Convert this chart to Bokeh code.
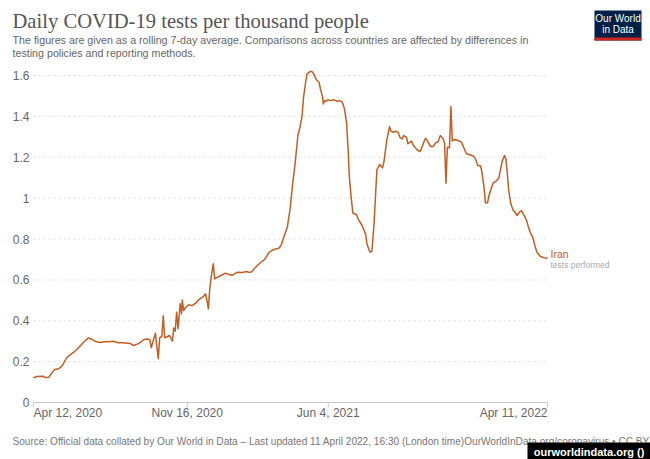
import pandas as pd
from bokeh.plotting import figure
from bokeh.models import Range1d, Label, BoxAnnotation, ColumnDataSource
from bokeh.core.properties import value
from bokeh.embed import file_html
from bokeh.resources import INLINE

# ---------------- data ----------------
dates = [
    "2020-04-12", "2020-04-17", "2020-04-26", "2020-04-29", "2020-05-04", "2020-05-07", "2020-05-12", "2020-05-18", "2020-05-23", "2020-05-29",
    "2020-06-03", "2020-06-08", "2020-06-15", "2020-06-22", "2020-06-29", "2020-07-03", "2020-07-09", "2020-07-16", "2020-07-23", "2020-07-28",
    "2020-08-03", "2020-08-10", "2020-08-17", "2020-08-27", "2020-09-01", "2020-09-07", "2020-09-11", "2020-09-15", "2020-09-20", "2020-09-24",
    "2020-09-26", "2020-09-30", "2020-10-02", "2020-10-03", "2020-10-06", "2020-10-08", "2020-10-11", "2020-10-13", "2020-10-15", "2020-10-19",
    "2020-10-22", "2020-10-26", "2020-10-28", "2020-10-30", "2020-11-01", "2020-11-03", "2020-11-06", "2020-11-08", "2020-11-09", "2020-11-11",
    "2020-11-14", "2020-11-18", "2020-11-23", "2020-11-28", "2020-12-02", "2020-12-09", "2020-12-12", "2020-12-14", "2020-12-16", "2020-12-18",
    "2020-12-20", "2020-12-23", "2020-12-25", "2020-12-29", "2021-01-05", "2021-01-09", "2021-01-14", "2021-01-19", "2021-01-26", "2021-02-02",
    "2021-02-08", "2021-02-11", "2021-02-15", "2021-02-21", "2021-02-28", "2021-03-06", "2021-03-12", "2021-03-19", "2021-03-26", "2021-03-29",
    "2021-04-02", "2021-04-07", "2021-04-11", "2021-04-14", "2021-04-18", "2021-04-22", "2021-04-25", "2021-04-28", "2021-04-30", "2021-05-03",
    "2021-05-05", "2021-05-09", "2021-05-12", "2021-05-15", "2021-05-18", "2021-05-22", "2021-05-24", "2021-05-27", "2021-05-28", "2021-05-30",
    "2021-06-01", "2021-06-04", "2021-06-07", "2021-06-12", "2021-06-17", "2021-06-20", "2021-06-24", "2021-06-27", "2021-06-30", "2021-07-02",
    "2021-07-04", "2021-07-07", "2021-07-09", "2021-07-14", "2021-07-17", "2021-07-22", "2021-07-27", "2021-07-29", "2021-08-02", "2021-08-05",
    "2021-08-08", "2021-08-10", "2021-08-12", "2021-08-16", "2021-08-20", "2021-08-22", "2021-08-26", "2021-08-30", "2021-09-01", "2021-09-05",
    "2021-09-08", "2021-09-11", "2021-09-14", "2021-09-17", "2021-09-19", "2021-09-23", "2021-09-25", "2021-09-28", "2021-09-30", "2021-10-03",
    "2021-10-08", "2021-10-12", "2021-10-14", "2021-10-17", "2021-10-20", "2021-10-23", "2021-10-27", "2021-10-31", "2021-11-03", "2021-11-07",
    "2021-11-10", "2021-11-14", "2021-11-16", "2021-11-18", "2021-11-20", "2021-11-23", "2021-11-25", "2021-11-27", "2021-11-30", "2021-12-05",
    "2021-12-10", "2021-12-13", "2021-12-17", "2021-12-22", "2021-12-27", "2021-12-30", "2022-01-02", "2022-01-06", "2022-01-08", "2022-01-11",
    "2022-01-13", "2022-01-16", "2022-01-18", "2022-01-21", "2022-01-24", "2022-01-28", "2022-02-01", "2022-02-03", "2022-02-06", "2022-02-09",
    "2022-02-11", "2022-02-13", "2022-02-15", "2022-02-18", "2022-02-21", "2022-02-24", "2022-02-27", "2022-03-02", "2022-03-05", "2022-03-08",
    "2022-03-12", "2022-03-15", "2022-03-18", "2022-03-21", "2022-03-24", "2022-03-27", "2022-04-01", "2022-04-06", "2022-04-11",
]

tests_per_thousand = [
    0.121, 0.127, 0.129, 0.122, 0.124, 0.140, 0.161, 0.165, 0.181, 0.219,
    0.233, 0.246, 0.268, 0.295, 0.316, 0.311, 0.298, 0.294, 0.298, 0.297,
    0.300, 0.292, 0.292, 0.289, 0.279, 0.287, 0.295, 0.307, 0.311, 0.307,
    0.268, 0.317, 0.339, 0.303, 0.214, 0.317, 0.323, 0.424, 0.317, 0.323,
    0.328, 0.300, 0.365, 0.349, 0.442, 0.361, 0.483, 0.434, 0.502, 0.450,
    0.466, 0.478, 0.474, 0.486, 0.502, 0.519, 0.532, 0.499, 0.458, 0.556,
    0.613, 0.679, 0.605, 0.613, 0.625, 0.633, 0.626, 0.623, 0.637, 0.636,
    0.641, 0.637, 0.639, 0.662, 0.685, 0.700, 0.735, 0.749, 0.755, 0.768,
    0.809, 0.858, 0.948, 1.053, 1.168, 1.306, 1.347, 1.404, 1.494, 1.567,
    1.608, 1.619, 1.619, 1.605, 1.579, 1.567, 1.534, 1.494, 1.461, 1.477,
    1.474, 1.482, 1.477, 1.481, 1.474, 1.477, 1.469, 1.437, 1.371, 1.249,
    1.102, 0.988, 0.926, 0.920, 0.894, 0.866, 0.825, 0.776, 0.736, 0.740,
    0.874, 1.004, 1.138, 1.164, 1.148, 1.176, 1.282, 1.350, 1.327, 1.322,
    1.327, 1.322, 1.295, 1.290, 1.306, 1.298, 1.266, 1.274, 1.279, 1.257,
    1.236, 1.228, 1.241, 1.269, 1.293, 1.279, 1.252, 1.252, 1.269, 1.277,
    1.306, 1.290, 1.269, 1.073, 1.249, 1.246, 1.448, 1.280, 1.287, 1.282,
    1.274, 1.249, 1.217, 1.212, 1.205, 1.192, 1.159, 1.159, 1.127, 1.053,
    0.977, 0.977, 1.013, 1.045, 1.075, 1.083, 1.099, 1.135, 1.184, 1.208,
    1.192, 1.119, 1.037, 0.972, 0.943, 0.931, 0.915, 0.931, 0.939, 0.920,
    0.894, 0.858, 0.828, 0.809, 0.768, 0.735, 0.714, 0.708, 0.706,
]

x_tick_dates = ["2020-04-12", "2020-11-16", "2021-06-04", "2022-04-11"]
x_tick_labels = ["Apr 12, 2020", "Nov 16, 2020", "Jun 4, 2021", "Apr 11, 2022"]
y_ticks = [0, 0.2, 0.4, 0.6, 0.8, 1.0, 1.2, 1.4, 1.6]
y_tick_labels = ["0", "0.2", "0.4", "0.6", "0.8", "1", "1.2", "1.4", "1.6"]

series_name = "Iran"
series_sub = "tests performed"
title = "Daily COVID-19 tests per thousand people"
subtitle_1 = "The figures are given as a rolling 7-day average. Comparisons across countries are affected by differences in"
subtitle_2 = "testing policies and reporting methods."
source = ("Source: Official data collated by Our World in Data \u2013 Last updated 11 April 2022, 16:30 (London time)"
          "OurWorldInData.org/coronavirus \u2022 CC BY")

# ---------------- layout ----------------
W, H = 650, 459
PL, PR, PT, PB = 33, 547, 75, 402    # plot-area edges on the canvas (data start/end, 1.6 and 0)
LINE_COLOR = "#C25E22"
SANS = "Liberation Sans"
GREY = "#666666"


def ms(d):
    return pd.Timestamp(d).value / 1e6


x0, x1 = ms(x_tick_dates[0]), ms(x_tick_dates[-1])
y_top = y_ticks[-1]
mpp = (x1 - x0) / (PR - PL)          # ms per pixel
upp = y_top / (PB - PT)              # value per pixel

p = figure(width=W, height=H,
           x_range=Range1d(x0 - PL * mpp, x1 + (W - PR) * mpp),
           y_range=Range1d(-(H - PB) * upp, y_top + PT * upp),
           output_backend="svg", toolbar_location=None,
           x_axis_location=None, y_axis_location=None,
           min_border=0)
p.outline_line_color = None
p.background_fill_color = "white"
p.border_fill_color = "white"
p.xgrid.visible = False
p.ygrid.visible = False


def sx(cx):
    return cx


def sy(cy):
    return H - cy


# grid lines (dotted) at the y ticks
n = len(y_ticks) - 1
p.segment(x0=[x0] * n, x1=[x1] * n, y0=y_ticks[1:], y1=y_ticks[1:],
          line_color="#dddddd", line_width=1, line_dash="2 3")

# x axis line and tick marks
p.segment(x0=[x0], x1=[x1], y0=[0], y1=[0], line_color="#c8c8c8", line_width=1)
xt = [ms(d) for d in x_tick_dates]
p.segment(x0=xt, x1=xt, y0=[0] * len(xt), y1=[-5 * upp] * len(xt), line_color="#c8c8c8", line_width=1)

# y tick labels
ysrc = ColumnDataSource(dict(x=[x0] * len(y_ticks), y=y_ticks, t=y_tick_labels))
p.text(x="x", y="y", text="t", source=ysrc, x_offset=-4, text_align="right", text_baseline="middle",
       text_font=value(SANS), text_font_size="12px", text_color=GREY)

# x tick labels
xsrc = ColumnDataSource(dict(x=xt, y=[0] * len(xt), t=x_tick_labels,
                             a=["left", "center", "center", "right"]))
p.text(x="x", y="y", text="t", source=xsrc, y_offset=10, text_align="a", text_baseline="middle",
       text_font=value(SANS), text_font_size="12px", text_color=GREY)

# the series
p.line(pd.to_datetime(pd.Series(dates)), tests_per_thousand, line_color=LINE_COLOR,
       line_width=1.5, line_join="round")

# series label
p.add_layout(Label(x=sx(550), y=sy(253), x_units="screen", y_units="screen", text=series_name,
                   text_align="left", text_baseline="middle", text_font=SANS,
                   text_font_size="10.5px", text_color=LINE_COLOR))
p.add_layout(Label(x=sx(550), y=sy(264), x_units="screen", y_units="screen", text=series_sub,
                   text_align="left", text_baseline="middle", text_font=SANS,
                   text_font_size="8.5px", text_color="#aaaaaa"))

# title / subtitle
p.add_layout(Label(x=sx(12), y=sy(20), x_units="screen", y_units="screen", text=title,
                   text_align="left", text_baseline="middle", text_font="Liberation Serif",
                   text_font_size="20.6px", text_color="#555555"))
p.add_layout(Label(x=sx(12), y=sy(39), x_units="screen", y_units="screen", text=subtitle_1,
                   text_align="left", text_baseline="middle", text_font=SANS,
                   text_font_size="10.7px", text_color=GREY))
p.add_layout(Label(x=sx(12), y=sy(52), x_units="screen", y_units="screen", text=subtitle_2,
                   text_align="left", text_baseline="middle", text_font=SANS,
                   text_font_size="10.7px", text_color=GREY))

# source
p.add_layout(Label(x=sx(12), y=sy(441), x_units="screen", y_units="screen", text=source,
                   text_align="left", text_baseline="middle", text_font=SANS,
                   text_font_size="10.1px", text_color="#777777"))

# logo (top right)
p.add_layout(BoxAnnotation(left=sx(594), right=sx(641), top=sy(10), bottom=sy(40),
                           left_units="screen", right_units="screen", top_units="screen", bottom_units="screen",
                           fill_color="#002147", fill_alpha=1, line_color=None))
p.add_layout(BoxAnnotation(left=sx(594), right=sx(641), top=sy(37), bottom=sy(40),
                           left_units="screen", right_units="screen", top_units="screen", bottom_units="screen",
                           fill_color="#CE261E", fill_alpha=1, line_color=None))
p.add_layout(Label(x=sx(617.5), y=sy(17.5), x_units="screen", y_units="screen", text="Our World",
                   text_align="center", text_baseline="middle", text_font=SANS,
                   text_font_size="10px", text_color="white"))
p.add_layout(Label(x=sx(617.5), y=sy(29), x_units="screen", y_units="screen", text="in Data",
                   text_align="center", text_baseline="middle", text_font=SANS,
                   text_font_size="10px", text_color="white"))

# bottom-right black tag
p.add_layout(BoxAnnotation(left=sx(527), right=sx(650), top=sy(442), bottom=sy(459),
                           left_units="screen", right_units="screen", top_units="screen", bottom_units="screen",
                           fill_color="black", fill_alpha=1, line_color=None))
p.add_layout(Label(x=sx(588.5), y=sy(451), x_units="screen", y_units="screen", text="ourworldindata.org ()",
                   text_align="center", text_baseline="middle", text_font=SANS, text_font_style="bold",
                   text_font_size="11px", text_color="white"))

open("out.html", "w").write(file_html(p, INLINE))
